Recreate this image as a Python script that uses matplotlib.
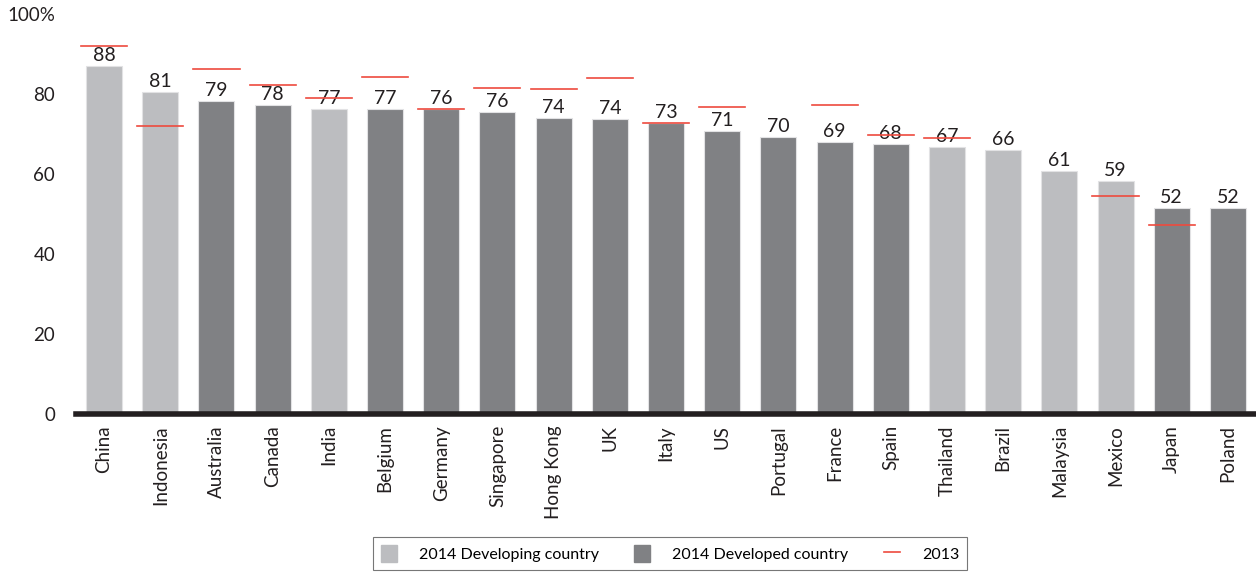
import matplotlib.pyplot as plt
import matplotlib.patches as mpatches
from matplotlib.lines import Line2D
import numpy as np

plt.rcParams['font.family'] = ['Lato', 'DejaVu Sans']

countries = ['China', 'Indonesia', 'Australia', 'Canada', 'India', 'Belgium',
             'Germany', 'Singapore', 'Hong Kong', 'UK', 'Italy', 'US',
             'Portugal', 'France', 'Spain', 'Thailand', 'Brazil', 'Malaysia',
             'Mexico', 'Japan', 'Poland']
values_2014 = [87.0, 80.5, 78.2, 77.3, 76.3, 76.2, 76.2, 75.6, 73.9, 73.8, 72.7,
               70.8, 69.3, 68.0, 67.4, 66.7, 66.0, 60.8, 58.3, 51.6, 51.4]
labels_2014 = [88, 81, 79, 78, 77, 77, 76, 76, 74, 74, 73,
               71, 70, 69, 68, 67, 66, 61, 59, 52, 52]
developed = [False, False, True, True, False, True, True, True, True, True, True,
             True, True, True, True, False, False, False, False, True, True]
values_2013 = [92.0, 71.9, 86.2, 82.2, 78.9, 84.2, 76.2, 81.4, 81.2, 83.9, 72.7,
               76.7, None, 77.2, 69.7, 69.1, None, None, 54.4, 47.2, None]

LIGHT = '#bcbdc0'
DARK = '#808184'
RED = '#ee4a3e'

fig = plt.figure(figsize=(12.56, 5.73), dpi=100)
ax = fig.add_axes([76 / 1256, 1 - 414 / 573, 1180 / 1256, 400 / 573])

x = np.arange(len(countries))
colors = [DARK if d else LIGHT for d in developed]
ax.bar(x, values_2014, width=0.64, color=colors, edgecolor='#e2e2e4',
       linewidth=0.8, zorder=2)

for xi, v, lab in zip(x, values_2014, labels_2014):
    ax.text(xi, v + 0.5, str(lab), ha='center', va='bottom', fontsize=14,
            color='#231f20', zorder=4)

for xi, v in zip(x, values_2013):
    if v is not None:
        ax.plot([xi - 0.41, xi + 0.41], [v, v], color=RED, lw=1.2, zorder=5)

ax.set_xlim(-0.5, len(countries) - 0.5)
ax.set_ylim(0, 100)
ax.set_yticks([0, 20, 40, 60, 80, 100])
ax.set_yticklabels(['0', '20', '40', '60', '80', '100%'])
ax.set_xticks(x)
ax.set_xticklabels(countries, rotation=90)
ax.tick_params(axis='both', length=0, colors='#231f20')
ax.tick_params(axis='y', pad=15, labelsize=13.5)
ax.tick_params(axis='x', pad=8, labelsize=13.5)

for sp in ['top', 'right', 'left']:
    ax.spines[sp].set_visible(False)
ax.spines['bottom'].set_linewidth(4)
ax.spines['bottom'].set_color('#231f20')
ax.spines['bottom'].set_zorder(6)

handles = [mpatches.Patch(color=LIGHT, label='2014 Developing country'),
           mpatches.Patch(color=DARK, label='2014 Developed country'),
           Line2D([0], [0], color=RED, lw=1.2, label='2013')]
leg = fig.legend(handles=handles, loc='lower center', ncol=3,
                 bbox_to_anchor=(670 / 1256, 0.0), fontsize=11.5, frameon=True,
                 fancybox=False, edgecolor='#555555', handlelength=1.0,
                 handleheight=1.2, columnspacing=2.2, handletextpad=1.4,
                 borderpad=0.5, borderaxespad=0.2)
leg.get_frame().set_linewidth(0.8)

fig.savefig('out.png', dpi=100, facecolor='white')
